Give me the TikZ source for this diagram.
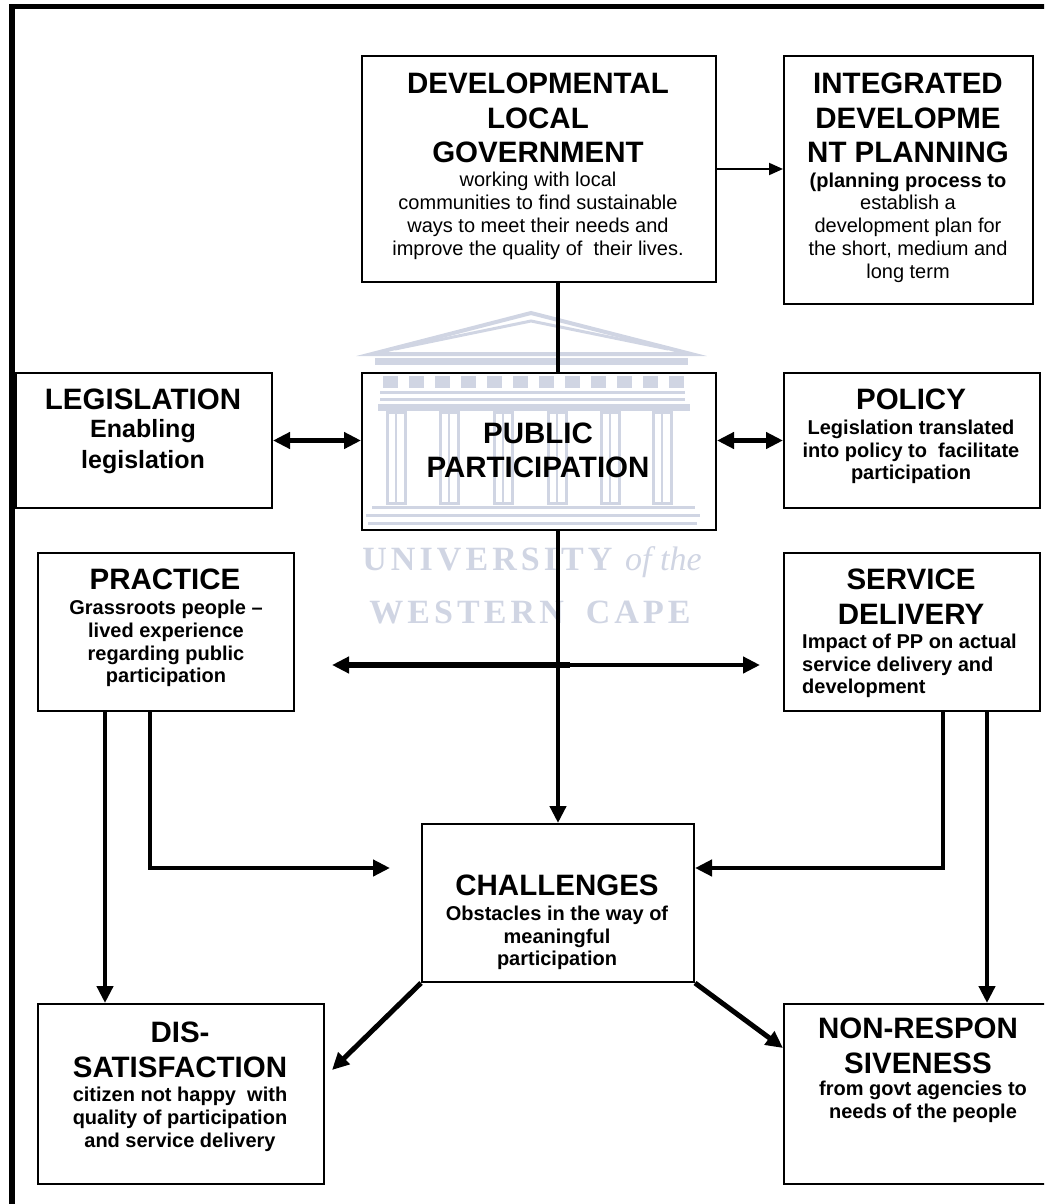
\documentclass[tikz,border=0pt]{standalone}
\usepackage{fontspec}
\setmainfont{Liberation Sans}
\newfontfamily\wmfont[LetterSpace=12]{Liberation Serif}
\newfontfamily\wmital{Liberation Serif}
\usetikzlibrary{arrows.meta,calc}
\definecolor{wm}{RGB}{208,213,227}
\begin{document}
\begin{tikzpicture}[x=1pt,y=-1pt,
  box/.style={draw, line width=2pt, inner sep=0pt, anchor=north west},
  ttl/.style={font=\fontsize{29.5}{34.5}\selectfont\bfseries, align=center, inner sep=0pt},
  bdy/.style={font=\fontsize{20}{22.8}\selectfont, align=center, inner sep=0pt},
  bdyb/.style={font=\fontsize{20}{22.8}\selectfont\bfseries, align=center, inner sep=0pt},
  bdyL/.style={font=\fontsize{25}{31}\selectfont\bfseries, align=center, inner sep=0pt},
  thk/.style={line width=4.5pt},
  thn/.style={line width=2pt},
  tipB/.tip={Triangle[length=17pt,width=16pt]},
  tipS/.tip={Triangle[length=14pt,width=12pt]},
  wmtext/.style={text=wm, font=\fontsize{34}{40}\selectfont\wmfont\bfseries, inner sep=0pt, anchor=base}
]
\useasboundingbox (0,0) rectangle (1044,1204);
\clip (0,0) rectangle (1044,1204);

% watermark (university logo)
\begin{scope}[draw=wm, fill=wm, line width=3pt]
  \draw[line width=4pt, line join=miter] (372,354) -- (531,313) -- (691,354) -- cycle;
  \draw (395,349) -- (531,321) -- (668,349);
  \fill (375,358) rectangle (688,365);
  \foreach \i in {0,...,11} \fill ({383+\i*26},376) rectangle ++(15,12);
  \draw (380,392) -- (685,392);
  \draw (380,399) -- (685,399);
  \fill (378,404) rectangle (690,411);
  \foreach \x in {396,449,503,557,610,662} {
    \draw (\x-9,412) rectangle (\x+9,503);
    \draw[line width=2pt] (\x,412) -- (\x,503);
  }
  \draw (372,507) -- (695,507);
  \draw (366,515) -- (700,515);
  \draw (368,523) -- (697,523);
\end{scope}
\node[wmtext] (wm1) at (532,570) {UNIVERSITY {\wmital\itshape\mdseries of the}};
\node[wmtext] (wm2) at (530,623) {WESTERN\hspace{22pt}CAPE};

% outer frame (left and top edges visible)
\draw[line width=5.5pt] (12,1215) -- (12,6.5) -- (1055,6.5);

% boxes
\node[box, minimum width=354pt, minimum height=226pt] (dlg) at (361,55) {};
\node[box, minimum width=249pt, minimum height=248pt] (idp) at (783,55) {};
\node[box, minimum width=256pt, minimum height=135pt] (leg) at (15,372) {};
\node[box, minimum width=354pt, minimum height=157pt] (pp) at (361,372) {};
\node[box, minimum width=256pt, minimum height=135pt] (pol) at (783,372) {};
\node[box, minimum width=256pt, minimum height=158pt] (pra) at (37,552) {};
\node[box, minimum width=256pt, minimum height=158pt] (sd) at (783,552) {};
\node[box, minimum width=272pt, minimum height=158pt] (cha) at (421,823) {};
\node[box, minimum width=286pt, minimum height=180pt] (dis) at (37,1003) {};
\node[box, minimum width=280pt, minimum height=180pt] (nr) at (783,1003) {};

% texts
\node[ttl] (dlgT) at (538,118) {DEVELOPMENTAL\\LOCAL\\GOVERNMENT};
\node[bdy] (dlgB) at (538,216) {working with local\\communities to find sustainable\\ways to meet their needs and\\improve the quality of\ \ their lives.};
\node[ttl] (idpT) at (908,118) {INTEGRATED\\DEVELOPME\\NT PLANNING};
\node[bdy] (idpB) at (908,227.5) {\textbf{(planning process to}\\establish a\\development plan for\\the short, medium and\\long term};
\node[ttl] (legT) at (143,399) {LEGISLATION};
\node[bdyL] (legB) at (143,446.5) {Enabling\\legislation};
\node[ttl] (ppT) at (538,450.5) {PUBLIC\\PARTICIPATION};
\node[ttl] (polT) at (911,399) {POLICY};
\node[bdyb] (polB) at (911,452) {Legislation translated\\into policy to\ \ facilitate\\participation};
\node[ttl] (praT) at (165,579) {PRACTICE};
\node[bdyb] (praB) at (166,643.5) {Grassroots people –\\lived experience\\regarding public\\participation};
\node[ttl] (sdT) at (911,596.5) {SERVICE\\DELIVERY};
\node[bdyb, align=left, anchor=west] (sdB) at (802,666) {Impact of PP on actual\\service delivery and\\development};
\node[ttl] (chaT) at (557,885) {CHALLENGES};
\node[bdyb] (chaB) at (557,938) {Obstacles in the way of\\meaningful\\participation};
\node[ttl] (disT) at (180,1050) {DIS-\\SATISFACTION};
\node[bdyb] (disB) at (180,1119.5) {citizen not happy\ \ with\\quality of participation\\and service delivery};
\node[ttl] (nrT) at (918,1046) {NON-RESPON\\SIVENESS};
\node[bdyb] (nrB) at (923,1102) {from govt agencies to\\needs of the people};

% free-end / bend coordinates
\coordinate (hl) at (332,665);
\coordinate (hm) at (570,665);
\coordinate (hr) at (760,665);
\coordinate (pa) at (105,710);
\coordinate (pb) at (150,710);
\coordinate (pbc) at (150,868);
\coordinate (pbe) at (390,868);
\coordinate (sa) at (943,710);
\coordinate (sac) at (943,868);
\coordinate (sb) at (987,710);
\coordinate (dtip) at (332,1070);
\coordinate (ntip) at (783,1048);

% connectors
\draw[thn, -tipS] (dlg.east) -- (dlg.east -| idp.west);
\draw[thk] (dlg.south -| cha.north) -- (pp.north -| cha.north);
\draw[thk, tipB-tipB] (leg.east) -- (leg.east -| pp.west);
\draw[thk, tipB-tipB] (pol.west -| pp.east) -- (pol.west);
\draw[thk, -tipB] (pp.south -| cha.north) -- (cha.north);
\draw[line width=6pt, tipB-] (hl) -- (hm);
\draw[thk, -tipB] (hm) -- (hr);
\draw[thk, -tipB] (pa) -- (pa |- dis.north);
\draw[thk, -tipB, line join=miter] (pb) -- (pbc) -- (pbe);
\draw[thk, -tipB, line join=miter] (sa) -- (sac) -- (sac -| cha.east);
\draw[thk, -tipB] (sb) -- (sb |- nr.north);
\draw[line width=5pt, -tipB] (cha.south west) -- (dtip);
\draw[line width=5pt, -tipB] (cha.south east) -- (ntip);
\end{tikzpicture}
\end{document}
